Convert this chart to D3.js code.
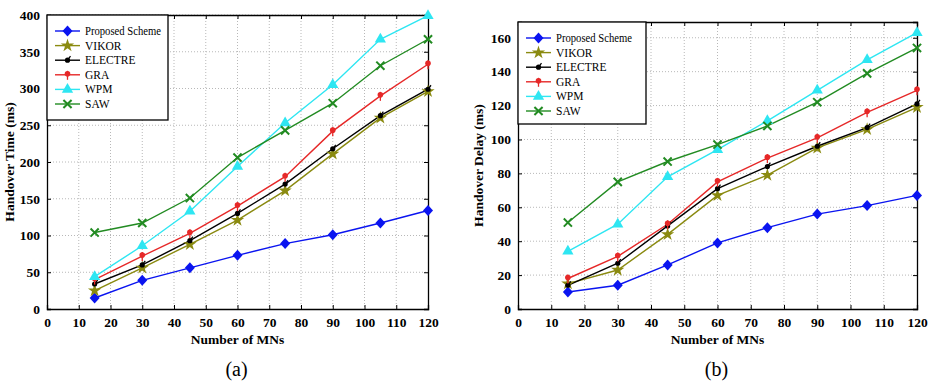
<!DOCTYPE html>
<html>
<head>
<meta charset="utf-8">
<script src="https://cdn.jsdelivr.net/npm/d3@7"></script>
<style>
  body { margin: 0; background: #fff; }
  svg text { font-family: "Liberation Serif", "Times New Roman", serif !important; }
</style>
</head>
<body>
<div class="viz"></div>
<script>
//////////////////////////
// Data
//////////////////////////

const MN_COUNTS = [15, 30, 45, 60, 75, 90, 105, 120];
const SERIES_NAMES = ['Proposed Scheme', 'VIKOR', 'ELECTRE', 'GRA', 'WPM', 'SAW'];

// (a) handover time (ms)
const TIME_PROPOSED = [15, 39, 56, 73, 89, 101, 117, 134];
const TIME_VIKOR    = [25, 56, 88, 121, 161, 211, 260, 296];
const TIME_ELECTRE  = [34, 60, 93, 130, 170, 218, 263, 299];
const TIME_GRA      = [40, 72, 103, 140, 180, 242, 290, 333];
const TIME_WPM      = [44, 86, 133, 194, 253, 305, 367, 399];
const TIME_SAW      = [104, 117, 151, 206, 243, 280, 331, 367];

// (b) handover delay (ms)
const DELAY_PROPOSED = [10, 14, 26, 39, 48, 56, 61, 67];
const DELAY_VIKOR    = [15, 23, 44, 67, 79, 95, 106, 119];
const DELAY_ELECTRE  = [14, 27, 49, 71, 84, 96, 107, 121];
const DELAY_GRA      = [18, 31, 50, 75, 89, 101, 116, 129];
const DELAY_WPM      = [34, 50, 78, 94, 111, 129, 147, 163];
const DELAY_SAW      = [51, 75, 87, 97, 108, 122, 139, 154];

const X_TICKS = [0, 10, 20, 30, 40, 50, 60, 70, 80, 90, 100, 110, 120];
const TIME_TICKS = [0, 50, 100, 150, 200, 250, 300, 350, 400];
const DELAY_TICKS = [0, 20, 40, 60, 80, 100, 120, 140, 160];

const COLORS = ['#0a14f0', '#8a8a10', '#000000', '#e62828', '#2ee6f2', '#228b22'];
const SERIF = '"Liberation Serif", "Times New Roman", serif';

//////////////////////////
// Markers
//////////////////////////

function drawMarker(g, i, color) {
    if (i === 0) {
        g.append('path').attr('d', 'M0,-5.5L5,0L0,5.5L-5,0Z')
            .attr('fill', color);
    } else if (i === 1) {
        g.append('path').attr('d', d3.symbol(d3.symbolStar, 55)())
            .attr('fill', color);
    } else if (i === 2) {
        g.append('line').attr('x1', 0).attr('y1', 0).attr('x2', 3).attr('y2', -4)
            .attr('stroke', color).attr('stroke-width', 1.3);
        g.append('circle').attr('r', 2.6).attr('fill', color);
    } else if (i === 3) {
        g.append('line').attr('x1', 0).attr('y1', -4).attr('x2', 0).attr('y2', 5)
            .attr('stroke', color).attr('stroke-width', 1.3);
        g.append('circle').attr('r', 2.8).attr('cy', -1).attr('fill', color);
    } else if (i === 4) {
        g.append('path').attr('d', d3.symbol(d3.symbolTriangle, 55)())
            .attr('fill', color);
    } else {
        g.append('path').attr('d', d3.symbol(d3.symbolTimes, 45)())
            .attr('fill', 'none').attr('stroke', color).attr('stroke-width', 2);
    }
}

//////////////////////////
// Chart
//////////////////////////

const svg = d3.select('div.viz')
    .append('svg')
    .attr('width', 934)
    .attr('height', 381);

function drawChart(opts) {
    const m = opts.box;
    const width = m.right - m.left;
    const height = m.bottom - m.top;

    const g = svg.append('g')
        .attr('transform', 'translate(' + m.left + ',' + m.top + ')');

    const xScale = d3.scaleLinear().domain([0, 120]).range([0, width]);
    const yScale = d3.scaleLinear().domain([0, opts.yMax]).range([height, 0]);

    // grid
    g.append('g').selectAll('line')
        .data(X_TICKS.slice(1, -1))
        .join('line')
        .attr('x1', d => xScale(d)).attr('x2', d => xScale(d))
        .attr('y1', 0).attr('y2', height)
        .attr('stroke', '#b8b8b8').attr('stroke-dasharray', '1,2');
    g.append('g').selectAll('line')
        .data(opts.yTicks.slice(1))
        .join('line')
        .attr('x1', 0).attr('x2', width)
        .attr('y1', d => yScale(d)).attr('y2', d => yScale(d))
        .attr('stroke', '#b8b8b8').attr('stroke-dasharray', '1,2');

    // axes with inward ticks
    const xAxis = g.append('g')
        .attr('transform', 'translate(0,' + height + ')')
        .call(d3.axisBottom(xScale).tickValues(X_TICKS).tickSize(-4).tickPadding(8));
    g.append('g')
        .call(d3.axisTop(xScale).tickValues(X_TICKS).tickSize(-4).tickFormat(''));
    const yAxis = g.append('g')
        .call(d3.axisLeft(yScale).tickValues(opts.yTicks).tickSize(-4).tickPadding(7));
    g.append('g')
        .attr('transform', 'translate(' + width + ',0)')
        .call(d3.axisRight(yScale).tickValues(opts.yTicks).tickSize(-4).tickFormat(''));

    g.selectAll('.domain').attr('stroke', '#000').attr('stroke-width', 1.3);
    g.selectAll('.tick line').attr('stroke', '#000');
    [xAxis, yAxis].forEach(ax => {
        ax.attr('font-family', SERIF);
        ax.selectAll('text')
            .style('font-family', SERIF)
            .style('font-size', '13.5px')
            .style('font-weight', 'bold')
            .attr('fill', '#000');
    });

    // lines and markers
    const line = d3.line()
        .x((d, i) => xScale(MN_COUNTS[i]))
        .y(d => yScale(d));

    opts.series.forEach((vals, si) => {
        g.append('path')
            .datum(vals)
            .attr('d', line)
            .attr('fill', 'none')
            .attr('stroke', COLORS[si])
            .attr('stroke-width', 1.4);
    });
    opts.series.forEach((vals, si) => {
        g.append('g').selectAll('g')
            .data(vals)
            .join('g')
            .attr('transform', (d, i) => 'translate(' + xScale(MN_COUNTS[i]) + ',' + yScale(d) + ')')
            .each(function() { drawMarker(d3.select(this), si, COLORS[si]); });
    });

    // legend
    const lg = svg.append('g')
        .attr('transform', 'translate(' + opts.legend.x + ',' + opts.legend.y + ')');
    lg.append('rect')
        .attr('width', opts.legend.w).attr('height', opts.legend.h)
        .attr('fill', '#fff').attr('stroke', '#000').attr('stroke-width', 1.3);
    SERIES_NAMES.forEach((name, si) => {
        const y = 16 + si * 14.6;
        lg.append('line')
            .attr('x1', 8).attr('x2', 33).attr('y1', y).attr('y2', y)
            .attr('stroke', COLORS[si]).attr('stroke-width', 1.4);
        const mk = lg.append('g').attr('transform', 'translate(20.5,' + y + ')');
        drawMarker(mk, si, COLORS[si]);
        lg.append('text')
            .attr('x', 38).attr('y', y + 4)
            .attr('font-size', 11.5)
            .attr('textLength', name.length > 10 ? 76 : null)
            .attr('lengthAdjust', 'spacingAndGlyphs')
            .text(name);
    });

    // titles
    svg.append('text')
        .attr('transform', 'translate(' + opts.yLabelX + ',' + (m.top + height / 2) + ') rotate(-90)')
        .attr('text-anchor', 'middle')
        .attr('font-size', 13.5).attr('font-weight', 'bold')
        .text(opts.yLabel);
    svg.append('text')
        .attr('x', m.left + width / 2).attr('y', 344)
        .attr('text-anchor', 'middle')
        .attr('font-size', 13.5).attr('font-weight', 'bold')
        .text('Number of MNs');
    svg.append('text')
        .attr('x', m.left + width / 2 - 1).attr('y', 376)
        .attr('text-anchor', 'middle')
        .attr('font-size', 20)
        .text(opts.caption);
}

drawChart({
    box: { left: 47, right: 428, top: 15, bottom: 309 },
    yMax: 400,
    yTicks: TIME_TICKS,
    series: [TIME_PROPOSED, TIME_VIKOR, TIME_ELECTRE, TIME_GRA, TIME_WPM, TIME_SAW],
    legend: { x: 47, y: 15, w: 121, h: 105 },
    yLabel: 'Handover Time (ms)',
    yLabelX: 14,
    caption: '(a)'
});

drawChart({
    box: { left: 518, right: 917, top: 22, bottom: 309 },
    yMax: 169.3,
    yTicks: DELAY_TICKS,
    series: [DELAY_PROPOSED, DELAY_VIKOR, DELAY_ELECTRE, DELAY_GRA, DELAY_WPM, DELAY_SAW],
    legend: { x: 518, y: 22, w: 128, h: 102 },
    yLabel: 'Handover Delay (ms)',
    yLabelX: 483,
    caption: '(b)'
});
</script>
</body>
</html>
